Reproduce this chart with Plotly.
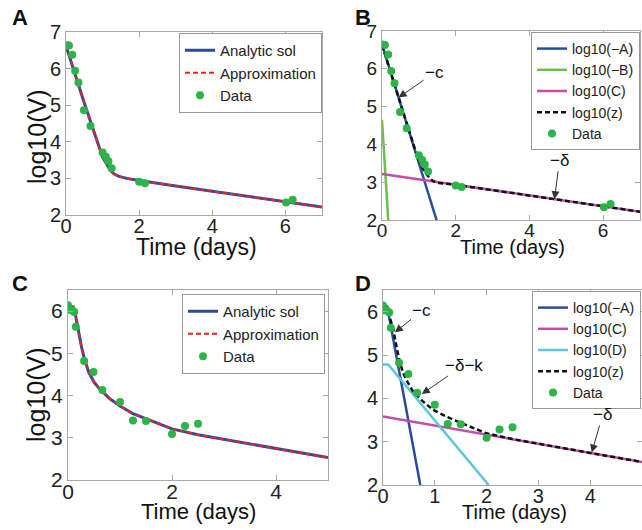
import plotly.graph_objects as go

# ---------------- data ----------------
# Panels A/B data
t_ab = [0.02, 0.08, 0.17, 0.25, 0.34, 0.49, 0.67, 1.0, 1.09, 1.16, 1.25, 2.0, 2.16, 6.02, 6.2]
v_ab = [6.64, 6.63, 6.38, 5.94, 5.62, 4.86, 4.43, 3.71, 3.59, 3.47, 3.28, 2.91, 2.87, 2.34, 2.42]

# Panel A fitted curve (analytic solution ~ approximation)
tA_curve = [0, 0.5, 1.0, 1.1, 1.2, 1.3, 1.43, 1.66, 2, 3, 4, 5, 6, 7]
vA_curve = [6.62, 5.06, 3.58, 3.40, 3.24, 3.13, 3.06, 3.00, 2.94, 2.79, 2.65, 2.51, 2.36, 2.22]

# Panel B component lines
tB_negA = [0, 1.48]
vB_negA = [6.65, 2.0]
tB_negB = [0, 0.17]
vB_negB = [4.65, 2.0]
tB_C = [0, 7]
vB_C = [3.22, 2.22]
tB_z = [0, 0.5, 1.0, 1.1, 1.2, 1.3, 1.4, 1.55, 2, 3, 4, 5, 6, 7]
vB_z = [6.63, 5.06, 3.55, 3.38, 3.22, 3.10, 3.02, 2.98, 2.93, 2.79, 2.65, 2.51, 2.36, 2.22]

# Panels C/D data
t_cd = [0.0, 0.02, 0.08, 0.12, 0.15, 0.31, 0.49, 0.66, 1.0, 1.25, 1.5, 2.0, 2.25, 2.5]
v_cd = [6.14, 6.03, 6.02, 5.98, 5.63, 4.82, 4.56, 4.13, 3.85, 3.41, 3.40, 3.09, 3.28, 3.33]

# Panel C fitted curve
tC_curve = [0, 0.1, 0.13, 0.2, 0.26, 0.32, 0.4, 0.5, 0.6, 0.8, 1.0, 1.25, 1.5, 2.0, 2.5, 3, 4, 5]
vC_curve = [6.12, 6.10, 6.00, 5.50, 5.15, 4.85, 4.55, 4.32, 4.17, 3.93, 3.75, 3.57, 3.45, 3.21, 3.07, 2.96, 2.74, 2.53]

# Panel D component lines
tD_negA = [0, 0.08, 0.72]
vD_negA = [6.15, 6.12, 2.0]
tD_C = [0, 5]
vD_C = [3.58, 2.53]
tD_D = [0, 0.1, 2.04]
vD_D = [4.78, 4.78, 2.0]
tD_z = [0, 0.08, 0.13, 0.2, 0.26, 0.32, 0.39, 0.48, 0.58, 0.77, 0.96, 1.22, 1.47, 1.98, 2.5, 3, 4, 5]
vD_z = [6.15, 6.05, 5.88, 5.58, 5.20, 4.86, 4.58, 4.36, 4.16, 3.93, 3.74, 3.58, 3.45, 3.20, 3.06, 2.95, 2.74, 2.53]

xticks_ab = [0, 2, 4, 6]
yticks_ab = [2, 3, 4, 5, 6, 7]
xticks_c = [0, 2, 4]
xticks_d = [0, 1, 2, 3, 4, 5]
yticks_cd = [2, 3, 4, 5, 6]

# ---------------- styling ----------------
FONT = "Liberation Sans, Arial, Helvetica, sans-serif"
BLUE = "#2b4c9b"
RED = "#e8232a"
DOTG = "#2db34a"
LINEG = "#6cc04a"
MAG = "#c04fa8"
CYAN = "#5ec6dc"
BLK = "#111111"
W, H = 642, 530


def px_x(p):
    return p / W


def px_y(p):
    return 1 - p / H


fig = go.Figure()


def line(x, y, name, color, xa, ya, lg, dash="solid", width=2.5):
    fig.add_trace(go.Scatter(x=x, y=y, mode="lines", name=name,
                             line=dict(color=color, width=width, dash=dash),
                             xaxis=xa, yaxis=ya, legend=lg))


def dots(x, y, xa, ya, lg):
    fig.add_trace(go.Scatter(x=x, y=y, mode="markers", name="Data",
                             marker=dict(color=DOTG, size=8, line=dict(width=0)),
                             xaxis=xa, yaxis=ya, legend=lg))


# Panel A
line(tA_curve, vA_curve, "Analytic sol", BLUE, "x", "y", "legend", width=3)
line(tA_curve, vA_curve, "Approximation", RED, "x", "y", "legend", dash="5px,3px", width=2)
dots(t_ab, v_ab, "x", "y", "legend")

# Panel B
line(tB_negA, vB_negA, "log10(\u2212A)", BLUE, "x2", "y2", "legend2")
line(tB_negB, vB_negB, "log10(\u2212B)", LINEG, "x2", "y2", "legend2")
line(tB_C, vB_C, "log10(C)", MAG, "x2", "y2", "legend2")
line(tB_z, vB_z, "log10(z)", BLK, "x2", "y2", "legend2", dash="5px,3px")
dots(t_ab, v_ab, "x2", "y2", "legend2")

# Panel C
line(tC_curve, vC_curve, "Analytic sol", BLUE, "x3", "y3", "legend3", width=3)
line(tC_curve, vC_curve, "Approximation", RED, "x3", "y3", "legend3", dash="5px,3px", width=2)
dots(t_cd, v_cd, "x3", "y3", "legend3")

# Panel D
line(tD_negA, vD_negA, "log10(\u2212A)", BLUE, "x4", "y4", "legend4")
line(tD_C, vD_C, "log10(C)", MAG, "x4", "y4", "legend4")
line(tD_D, vD_D, "log10(D)", CYAN, "x4", "y4", "legend4")
line(tD_z, vD_z, "log10(z)", BLK, "x4", "y4", "legend4", dash="5px,3px")
dots(t_cd, v_cd, "x4", "y4", "legend4")


def axis(domain, rng, ticks, size, anchor, standoff=0):
    return dict(domain=domain, range=rng, tickvals=ticks, showgrid=False, zeroline=False,
                showline=True, linecolor="#a8a8a8", linewidth=1, mirror="ticks",
                ticks="inside", ticklen=5, tickcolor="#a8a8a8", automargin=False,
                ticklabelstandoff=standoff,
                tickfont=dict(family=FONT, size=size, color="#222"), anchor=anchor)


XS = -7
layout = dict(
    width=W, height=H, margin=dict(l=0, r=0, t=0, b=0, autoexpand=False),
    paper_bgcolor="white", plot_bgcolor="white", showlegend=True,
    font=dict(family=FONT, color="#222"),
    xaxis=axis([px_x(66), px_x(322)], [0, 7], xticks_ab, 20, "y", XS),
    yaxis=axis([px_y(215), px_y(32)], [2, 7], yticks_ab, 20, "x"),
    xaxis2=axis([px_x(382), px_x(640)], [0, 7], xticks_ab, 19, "y2", XS),
    yaxis2=axis([px_y(220), px_y(31)], [2, 7], yticks_ab, 19, "x2"),
    xaxis3=axis([px_x(68), px_x(328)], [0, 5], xticks_c, 21, "y3", XS),
    yaxis3=axis([px_y(480), px_y(290)], [2, 6.5], yticks_cd, 21, "x3"),
    xaxis4=axis([px_x(383), 1.0], [0, 5], xticks_d, 20, "y4", XS),
    yaxis4=axis([px_y(485), px_y(290)], [2, 6.5], yticks_cd, 20, "x4"),
)


def legend(xr, yt, size):
    return dict(x=px_x(xr), y=px_y(yt), xanchor="right", yanchor="top",
                bgcolor="white", bordercolor="#999", borderwidth=1,
                font=dict(family=FONT, size=size, color="#222"),
                tracegroupgap=0, itemwidth=30)


layout["legend"] = legend(322, 33, 15)
layout["legend2"] = legend(640, 32, 14)
layout["legend3"] = legend(325, 294, 15)
layout["legend4"] = legend(641, 291, 14)
fig.update_layout(**layout)

ann = []


def ptext(text, x, y, size, bold=False, angle=0):
    ann.append(dict(text=("<b>%s</b>" % text) if bold else text, x=px_x(x), y=px_y(y),
                    xref="paper", yref="paper", showarrow=False, textangle=angle,
                    font=dict(family=FONT, size=size, color="#111"),
                    xanchor="center", yanchor="middle"))


# panel letters
ptext("A", 20, 18, 22, bold=True)
ptext("B", 363, 18, 22, bold=True)
ptext("C", 20, 283, 22, bold=True)
ptext("D", 363, 283, 22, bold=True)
# axis titles
ptext("Time (days)", 196, 247, 23)
ptext("Time (days)", 512, 247, 20)
ptext("Time (days)", 198, 511, 22)
ptext("Time (days)", 514, 512, 20)
ptext("log10(V)", 37, 137, 25, angle=-90)
ptext("log10(V)", 36, 395, 25, angle=-90)


def arrow(text, x, y, ax, ay, xa, ya):
    ann.append(dict(text=text, x=x, y=y, xref=xa, yref=ya, ax=ax, ay=ay,
                    showarrow=True, arrowhead=2, arrowsize=1.6, arrowwidth=1,
                    arrowcolor="#333", standoff=0,
                    font=dict(family=FONT, size=17, color="#111")))


arrow("\u2212c", 0.45, 5.24, 36, -25, "x2", "y2")
arrow("\u2212\u03b4", 4.68, 2.55, 5, -39, "x2", "y2")
arrow("\u2212c", 0.23, 5.52, 27, -22, "x4", "y4")
arrow("\u2212\u03b4\u2212k", 0.75, 4.10, 42, -29, "x4", "y4")
arrow("\u2212\u03b4", 4.03, 2.75, 11, -38, "x4", "y4")

fig.update_layout(annotations=ann)
fig.write_html("out.html", config={"displayModeBar": False},
               post_script="document.body.style.margin='0';document.body.style.padding='0';")
